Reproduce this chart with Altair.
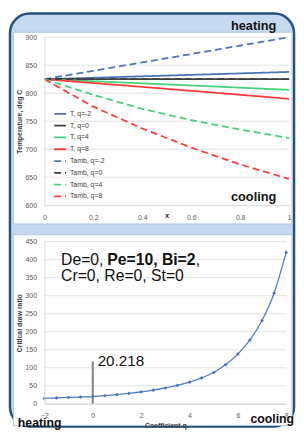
import altair as alt
import pandas as pd

# ---------------- top panel data ----------------
x_vals = [0, 0.2, 0.4, 0.6, 0.8, 1.0]
T_qm2 = [825, 827.6, 830.2, 832.8, 835.4, 838]
T_q0 = [825, 825, 825, 825, 825, 825]
T_q4 = [825, 821.4, 817.6, 813.8, 809.9, 806]
T_q8 = [825, 818.2, 811.3, 804.3, 797.2, 790]
Tamb_qm2 = [825, 840, 855, 870, 885, 900]
Tamb_q0 = [825, 825, 825, 825, 825, 825]
Tamb_q4 = [825, 797, 772, 752, 735, 720]
Tamb_q8 = [825, 776, 737, 703, 673, 647]

series_names = ["T, q=-2", "T, q=0", "T, q=4", "T, q=8",
                "Tamb, q=-2", "Tamb, q=0", "Tamb, q=4", "Tamb, q=8"]
series_values = [T_qm2, T_q0, T_q4, T_q8, Tamb_qm2, Tamb_q0, Tamb_q4, Tamb_q8]
top_x_ticks = [0, 0.2, 0.4, 0.6, 0.8, 1]
top_y_ticks = [600, 650, 700, 750, 800, 850, 900]

# ---------------- bottom panel data ----------------
q_vals = [-2, -1.5, -1, -0.5, 0, 0.5, 1, 1.5, 2, 2.5, 3, 3.5, 4, 4.5, 5, 5.5, 6, 6.5, 7, 7.5, 8]
draw_ratio = [15, 16.3, 17.6, 18.9, 20.218, 22.5, 25.5, 29, 33, 38, 44, 51, 60, 72, 87,
              109, 138, 177, 231, 307, 420]
marker_q = [0]
marker_lo = [0]
marker_hi = [118]
marker_label = ["20.218"]
bot_x_ticks = [-2, 0, 2, 4, 6, 8]
bot_y_ticks = [0, 50, 100, 150, 200, 250, 300, 350, 400, 450]

# ---------------- styles ----------------
palette = ["#4A76B8", "#404040", "#45D27A", "#FF3A3A",
           "#4A76B8", "#404040", "#45D27A", "#FF3A3A"]
dashes = [[1, 0]] * 4 + [[7, 4]] * 4
FONT = "Liberation Sans"
GRID = "#E3E3E3"

rows = []
for name, vals in zip(series_names, series_values):
    for xv, yv in zip(x_vals, vals):
        rows.append({"series": name, "x": xv, "T": yv})
top_df = pd.DataFrame(rows)
one = pd.DataFrame({"a": [0]})

W1, H1 = 249, 171
W2, H2 = 246, 165

AX = dict(zindex=1, ticks=False, grid=False, domainColor="#D9D9D9",
          labelOverlap=False, labelFlush=False, labelBound=False,
          labelFont=FONT, labelFontSize=7, labelColor="#595959", labelPadding=8,
          titleFont=FONT, titleFontSize=7, titleFontWeight="bold", titleColor="#404040",
          titlePadding=3)

frame = alt.Chart(one).mark_rect(
    fill="#C5D9F0", stroke="#24517F", strokeWidth=2.5, strokeJoin="round", cornerRadius=20
).encode(x=alt.value(-35), x2=alt.value(254), y=alt.value(-24), y2=alt.value(396))

panel_top = alt.Chart(one).mark_rect(
    fill="white", stroke="#AFC7E1", strokeWidth=1, strokeJoin="round"
).encode(x=alt.value(-31.5), x2=alt.value(252), y=alt.value(-5), y2=alt.value(190))

x_top = alt.X("x:Q", scale=alt.Scale(domain=[0, 1], nice=False),
              axis=alt.Axis(values=top_x_ticks, title=None, labelExpr="'' + datum.value", **AX))
y_top = alt.Y("T:Q", scale=alt.Scale(domain=[600, 900], nice=False),
              axis=alt.Axis(values=top_y_ticks, title="Temperature, deg C", **AX))

grid_top = alt.Chart(pd.DataFrame({"T": top_y_ticks})).mark_rule(
    color=GRID, strokeWidth=1).encode(y=y_top)

lines = alt.Chart(top_df).mark_line(strokeWidth=1.8).encode(
    x=x_top,
    y=y_top,
    color=alt.Color("series:N", scale=alt.Scale(domain=series_names, range=palette),
                    legend=alt.Legend(title=None)),
    strokeDash=alt.StrokeDash("series:N", scale=alt.Scale(domain=series_names, range=dashes),
                              legend=alt.Legend(title=None)),
)


def txt(label, x, y, size, weight="normal", align="left", baseline="alphabetic"):
    return alt.Chart(one).mark_text(
        fontSize=size, fontWeight=weight, align=align, baseline=baseline,
        font=FONT, color="#111111"
    ).encode(x=alt.value(x), y=alt.value(y), text=alt.value(label))


top = alt.layer(
    frame, panel_top, grid_top, lines,
    txt("heating", 236, -7, 13, "bold", "right"),
    txt("cooling", 236, 167, 13, "bold", "right"),
    txt("x", 125, 182, 7, "bold", "center", "middle"),
).properties(width=W1, height=H1)

bot_df = pd.DataFrame({"q": q_vals, "r": draw_ratio})
rule_df = pd.DataFrame({"q": marker_q, "r": marker_lo, "hi": marker_hi})
lab_df = pd.DataFrame({"q": marker_q, "r": marker_hi, "lab": marker_label})

panel_bot = alt.Chart(one).mark_rect(
    fill="white", stroke="#AFC7E1", strokeWidth=1, strokeJoin="round"
).encode(x=alt.value(-31.5), x2=alt.value(252), y=alt.value(-7), y2=alt.value(187))

xs = alt.X("q:Q", scale=alt.Scale(domain=[-2, 8], nice=False),
           axis=alt.Axis(values=bot_x_ticks, title="Coefficient q", **AX))
ys = alt.Y("r:Q", scale=alt.Scale(domain=[0, 450], nice=False),
           axis=alt.Axis(values=bot_y_ticks, title="Critical draw ratio", **AX))

grid_bot = alt.Chart(pd.DataFrame({"r": bot_y_ticks})).mark_rule(
    color=GRID, strokeWidth=1).encode(y=ys)
curve = alt.Chart(bot_df).mark_line(color="#4A7EC5", strokeWidth=1.3, interpolate="monotone").encode(x=xs, y=ys)
pts = alt.Chart(bot_df).mark_point(shape="diamond", filled=True, size=14, color="#3F74BF", opacity=1).encode(x=xs, y=ys)
rule = alt.Chart(rule_df).mark_rule(color="#808080", strokeWidth=2).encode(
    x=xs, y=ys, y2="hi:Q")
rule_lab = alt.Chart(lab_df).mark_text(
    fontSize=15.5, align="left", baseline="alphabetic", dx=5, dy=5, font=FONT, color="#111111"
).encode(x=xs, y=ys, text="lab:N")

bottom = alt.layer(
    panel_bot, grid_bot, rule, curve, pts, rule_lab,
    txt("De=0, ", 17, 24, 16),
    txt("Pe=10, Bi=2", 64, 24, 16, "bold"),
    txt(",", 154, 24, 16),
    txt("Cr=0, Re=0, St=0", 17, 40, 16),
    txt("heating", -27, 189, 12.5, "bold"),
    txt("cooling", 254, 185, 12.5, "bold", "right"),
).properties(width=W2, height=H2)

chart = alt.vconcat(top, bottom, spacing=37, bounds="flush").properties(
    padding=0, background="white"
).configure_view(stroke=None).configure_legend(
    orient="none", legendX=9, legendY=71, symbolType="stroke", symbolStrokeWidth=1.8,
    symbolSize=144, labelFontSize=7, labelFont=FONT, labelColor="#404040",
    rowPadding=1, labelOffset=3, padding=0,
)

chart.save("out.html", embed_options={"renderer": "svg", "actions": False})
